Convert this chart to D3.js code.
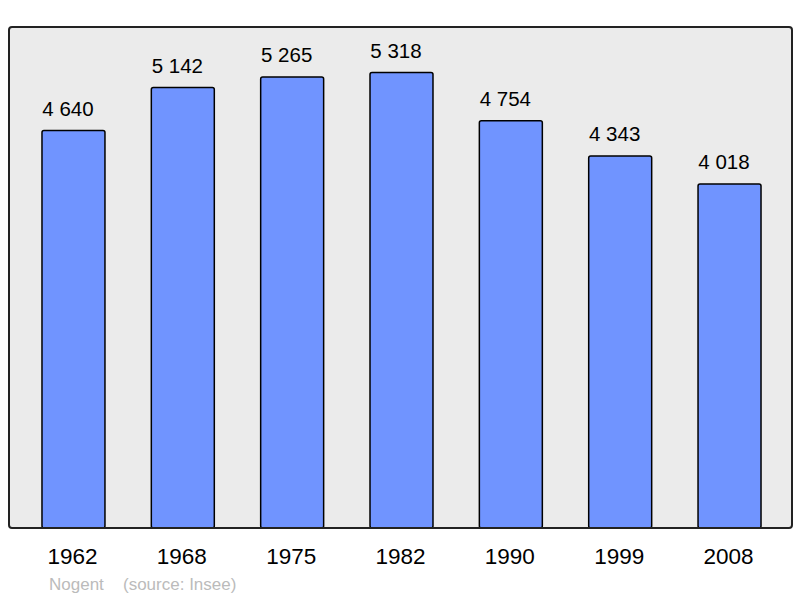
<!DOCTYPE html>
<html><head><meta charset="utf-8">
<script src="https://cdn.jsdelivr.net/npm/d3@7"></script>
<style>body{margin:0;background:#fff}svg{display:block}</style>
</head><body>
<script>
const years = ["1962","1968","1975","1982","1990","1999","2008"];
const population = [4640,5142,5265,5318,4754,4343,4018];
const valueLabels = ["4 640","5 142","5 265","5 318","4 754","4 343","4 018"];
const footerName = "Nogent";
const footerSource = "(source: Insee)";

const W=800,H=598;
const FONT="Liberation Sans, Arial, sans-serif";
const svg=d3.select("body").append("svg").attr("width",W).attr("height",H);
const panel={x0:9,x1:792,y0:27,y1:528};
svg.append("rect").attr("x",panel.x0).attr("y",panel.y0)
  .attr("width",panel.x1-panel.x0).attr("height",panel.y1-panel.y0)
  .attr("rx",3).attr("fill","#ebebeb").attr("stroke","none");

const x=d3.scaleBand().domain(years).range([18.8,784.2]).paddingInner(0.424).paddingOuter(0.212);
const y=d3.scaleLinear().domain([0,d3.max(population)*1.1]).range([panel.y1,panel.y0]);

const data=years.map((yr,i)=>({yr,v:population[i],lab:valueLabels[i]}));
svg.selectAll("rect.bar").data(data).enter().append("rect").attr("class","bar")
  .attr("x",d=>x(d.yr)).attr("y",d=>y(d.v))
  .attr("width",x.bandwidth()).attr("height",d=>y(0)-y(d.v))
  .attr("rx",2).attr("fill","#7094ff").attr("stroke","#000").attr("stroke-width",1.5);

svg.append("rect").attr("x",panel.x0).attr("y",panel.y0)
  .attr("width",panel.x1-panel.x0).attr("height",panel.y1-panel.y0)
  .attr("rx",3).attr("fill","none").attr("stroke","#222").attr("stroke-width",2);

svg.selectAll("text.val").data(data).enter().append("text").attr("class","val")
  .attr("x",d=>x(d.yr)+x.bandwidth()/2-5.5).attr("y",d=>y(d.v)-15)
  .attr("text-anchor","middle").attr("font-family",FONT)
  .attr("font-size",20.5).attr("fill","#000").text(d=>d.lab);

const xAxis=svg.append("g").attr("transform",`translate(0,${panel.y1})`)
  .call(d3.axisBottom(x).tickSize(0).tickPadding(0));
xAxis.select(".domain").remove();
xAxis.selectAll("text").attr("y",36).attr("dy",0).attr("dx",-1)
  .attr("font-family",FONT).attr("font-size",22.5).attr("fill","#000");

svg.append("text").attr("x",49).attr("y",590)
  .attr("font-family",FONT).attr("font-size",17).attr("fill","#bbb")
  .text(footerName);
svg.append("text").attr("x",123).attr("y",590)
  .attr("font-family",FONT).attr("font-size",17).attr("fill","#bbb")
  .text(footerSource);
</script>
</body></html>
